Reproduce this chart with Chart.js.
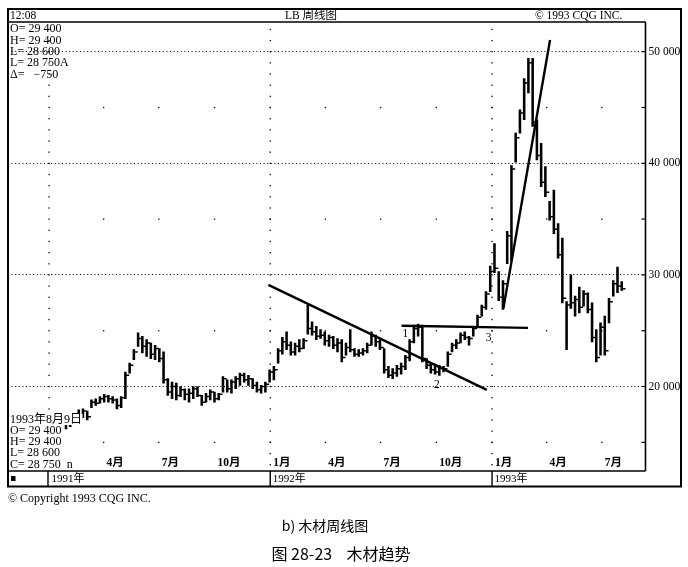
<!DOCTYPE html>
<html>
<head>
<meta charset="utf-8">
<script src="https://cdn.jsdelivr.net/npm/chart.js@4.4.1/dist/chart.umd.min.js"></script>
<style>
html, body { margin: 0; padding: 0; background: #fff; }
canvas { display: block; }
</style>
</head>
<body>
<canvas id="lumber" width="688" height="567"></canvas>
<script>
// weekly lumber bars, x = week number counted from 1 Jan 1991
const firstWeek = 4;
const highs = [
  16900, 17100, 17500, 17900, 18000, 17800, 18800, 18900, 19100, 19300,
  19200, 19100, 18900, 19100, 21300, 22100, 23300, 24800, 24500, 24200,
  23900, 23700, 23400, 23100, 20700, 20400, 20300, 20000, 19800, 19800,
  20000, 20000, 19200, 19400, 19700, 19500, 19400, 20900, 20600, 20600,
  20900, 21200, 21200, 21000, 20700, 20400, 20100, 20400, 21500, 21800,
  23400, 24400, 24900, 24000, 23900, 24200, 24300, 27300, 25800, 25400,
  25100, 24900, 24600, 24500, 24300, 24200, 23900, 25100, 23400, 23300,
  23400, 23900, 24900, 24600, 24200, 23400, 21800, 21600, 21900, 22100,
  22800, 24200, 25500, 25600, 25500, 22500, 22100, 22000, 21900, 21800,
  23100, 23900, 24200, 24800, 24900, 24500, 25400, 26400, 27300, 28500,
  30800, 32800, 30300, 29500, 33900, 39800, 42700, 44800, 47600, 49400,
  49400, 43900, 41800, 39700, 36600, 37600, 34600, 33300, 27600, 30000,
  28100, 28900, 28600, 28400, 27500, 25100, 25700, 26300, 27900, 29500,
  30700, 29400
];
const lows = [
  16200, 16400, 16700, 16900, 17200, 17000, 18100, 18300, 18500, 18600,
  18600, 18500, 18000, 18100, 18900, 21200, 22400, 23600, 23000, 22700,
  22500, 22400, 22200, 20300, 19200, 18900, 18800, 19100, 18800, 18600,
  18900, 19100, 18300, 18600, 18800, 18600, 18800, 19500, 19500, 19400,
  19800, 20100, 20400, 20100, 19800, 19500, 19400, 19500, 20400, 20600,
  22100, 22900, 23300, 22800, 22800, 23100, 23400, 24700, 24600, 24200,
  24300, 23700, 23600, 23400, 23100, 22200, 22800, 23100, 22700, 22700,
  22800, 23000, 23700, 23600, 23300, 21200, 20800, 20700, 20900, 21100,
  21500, 22300, 23900, 24500, 22200, 21600, 21200, 21100, 21000, 21300,
  21800, 23100, 23400, 23900, 24200, 23700, 24500, 25400, 26300, 26900,
  28500, 30200, 27700, 26900, 31000, 31300, 40100, 42700, 43900, 46300,
  43300, 40300, 37900, 37000, 34900, 33700, 31500, 27500, 23300, 27000,
  26300, 26600, 27200, 26600, 24000, 22200, 22800, 22800, 25700, 28100,
  28400, 28600
];
const closes = [
  16700, 16900, 17300, 17100, 17800, 17300, 18600, 18500, 18900, 19100,
  18900, 18800, 18300, 19000, 21000, 21900, 23100, 24300, 23600, 23900,
  22900, 23400, 22500, 20600, 19500, 20000, 19200, 19700, 19300, 19400,
  19800, 19200, 18600, 19100, 19500, 18900, 19300, 20700, 19800, 20400,
  20700, 21000, 20600, 20700, 20100, 19700, 20000, 20200, 21300, 21500,
  23200, 24000, 23700, 23100, 23600, 23400, 24100, 25200, 24900, 24500,
  24600, 24100, 24400, 23700, 23900, 22600, 23500, 23300, 22900, 23000,
  23200, 23700, 24500, 24000, 23500, 21500, 21000, 21200, 21600, 21800,
  22600, 24000, 25200, 25300, 22500, 21900, 21500, 21300, 21700, 21600,
  22900, 23700, 23900, 24600, 24400, 24300, 25200, 26200, 27100, 28300,
  30300, 30600, 28000, 29200, 33500, 39500, 42300, 44500, 47200, 49000,
  43700, 40700, 38300, 37400, 35200, 34100, 31800, 27900, 27300, 27500,
  27800, 27100, 28300, 26900, 24400, 22600, 25300, 23200, 27600, 29200,
  29000, 28750
];

const yTicks = [20000, 30000, 40000, 50000];
const quarterWeeks = [12.86, 25.86, 39, 52.14, 65.14, 78.14, 91.29, 104.43, 117.29, 130.29];
const monthLabels = ['4月', '7月', '10月', '1月', '4月', '7月', '10月', '1月', '4月', '7月'];
const yearWeeks = [0, 52.14, 104.43];
const yearLabels = ['1991年', '1992年', '1993年'];

// hand-drawn lines on the chart
const trendDown = [{x: 51.7, y: 29100}, {x: 103.2, y: 19700}];
const neckline = [{x: 83.1, y: 25450}, {x: 112.9, y: 25250}];
const trendUp = [{x: 107.1, y: 27000}, {x: 118.1, y: 51050}];
const pointLabels = [
  {x: 84.0, y: 24700, text: '1'},
  {x: 91.4, y: 20130, text: '2'},
  {x: 103.6, y: 24350, text: '3'}
];

const serif = '"Liberation Serif", "Noto Sans CJK SC", serif';
const fmt = v => String(v).replace(/\B(?=(\d{3})+(?!\d))/g, ' ');

const decor = {
  id: 'decor',
  beforeDatasetsDraw(chart) {
    const {ctx, chartArea: a, scales: {x, y}} = chart;
    ctx.save();
    ctx.fillStyle = '#000';
    // year columns: dot every 1000
    yearWeeks.forEach(w => {
      const px = x.getPixelForValue(w);
      for (let v = 13000; v <= 52000; v += 1000) {
        ctx.fillRect(px - 0.6, y.getPixelForValue(v) - 0.6, 1.3, 1.3);
      }
    });
    // quarter columns: dots only on the half levels
    quarterWeeks.forEach(w => {
      const px = x.getPixelForValue(w);
      [15000, 25000, 35000, 45000].forEach(v => {
        ctx.fillRect(px - 0.6, y.getPixelForValue(v) - 0.6, 1.3, 1.3);
      });
    });
    // short inner ticks on the price axis
    ctx.strokeStyle = '#000';
    ctx.lineWidth = 1.2;
    for (let v = 15000; v <= 50000; v += 5000) {
      const py = y.getPixelForValue(v);
      ctx.beginPath();
      ctx.moveTo(a.right - 4, py);
      ctx.lineTo(a.right, py);
      ctx.stroke();
    }
    ctx.restore();
  },
  afterDraw(chart) {
    const {ctx, chartArea: a, scales: {x, y}} = chart;
    ctx.save();
    ctx.strokeStyle = '#000';
    ctx.fillStyle = '#000';

    // frame
    ctx.lineWidth = 2;
    ctx.strokeRect(8, 9, 673, 477.5);
    ctx.lineWidth = 1.6;
    ctx.beginPath();
    ctx.moveTo(8, a.top); ctx.lineTo(a.right, a.top);
    ctx.moveTo(a.right, a.top); ctx.lineTo(a.right, a.bottom);
    ctx.moveTo(8, a.bottom); ctx.lineTo(a.right, a.bottom);
    ctx.stroke();

    // header strip
    ctx.font = '11.5px ' + serif;
    ctx.textBaseline = 'middle';
    ctx.textAlign = 'left';
    ctx.fillText('12:08', 10, 15.5);
    ctx.fillText('© 1993 CQG INC.', 535, 16);
    ctx.textAlign = 'center';
    ctx.fillText('LB 周线图', 311, 15.5);

    // quote block top left
    ctx.font = '12px ' + serif;
    ctx.textAlign = 'left';
    ['O= 29 400', 'H= 29 400', 'L= 28 600', 'L= 28 750A', 'Δ=   −750'].forEach((t, i) => {
      ctx.fillText(t, 10, 29 + i * 11.4);
    });

    // last bar block bottom left, over the bars
    ['1993年8月9日', 'O= 29 400', 'H= 29 400', 'L= 28 600', 'C= 28 750  n'].forEach((t, i) => {
      const ty = 419.5 + i * 11.25;
      const w = ctx.measureText(t).width;
      ctx.fillStyle = '#fff';
      ctx.fillRect(9.5, ty - 5.5, w + 1, 11);
      ctx.fillStyle = '#000';
      ctx.fillText(t, 10, ty);
    });

    // month labels
    ctx.font = 'bold 11.5px ' + serif;
    quarterWeeks.forEach((w, i) => {
      ctx.fillText(monthLabels[i], x.getPixelForValue(w) + 3, 463.5);
    });

    // year strip
    ctx.lineWidth = 1.4;
    ctx.beginPath();
    ctx.moveTo(48, a.bottom); ctx.lineTo(48, 486.5);
    yearWeeks.slice(1).forEach(w => {
      const px = x.getPixelForValue(w);
      ctx.moveTo(px, a.bottom); ctx.lineTo(px, 486.5);
    });
    ctx.stroke();
    ctx.fillRect(11, 476, 4.5, 5);
    ctx.font = '11px ' + serif;
    yearWeeks.forEach((w, i) => {
      ctx.fillText(yearLabels[i], Math.max(x.getPixelForValue(w), 48) + 2.5, 479);
    });

    // point labels 1 2 3
    ctx.font = '11.5px ' + serif;
    ctx.textAlign = 'center';
    pointLabels.forEach(p => {
      ctx.fillText(p.text, x.getPixelForValue(p.x), y.getPixelForValue(p.y));
    });

    // captions under the frame
    ctx.textAlign = 'left';
    ctx.font = '12px ' + serif;
    ctx.fillText('© Copyright 1993 CQG INC.', 8, 499);
    ctx.textAlign = 'center';
    ctx.font = '14px "Noto Sans CJK SC", sans-serif';
    ctx.fillText('b) 木材周线图', 325, 526);
    ctx.font = '16px "Noto Sans CJK SC", sans-serif';
    ctx.fillText('图 28-23    木材趋势', 341, 554);
    ctx.restore();
  }
};

new Chart(document.getElementById('lumber'), {
  type: 'bar',
  data: {
    datasets: [{
      type: 'bar',
      data: highs.map((h, i) => ({x: firstWeek + i, y: [lows[i], h]})),
      backgroundColor: '#000',
      barThickness: 1.9,
      grouped: false,
    }, {
      type: 'line',
      data: closes.map((c, i) => ({x: firstWeek + i + 0.45, y: c})),
      showLine: false,
      pointStyle: 'line',
      pointRadius: 1.9,
      pointBorderWidth: 1.5,
      borderColor: '#000',
    }, {
      type: 'line',
      data: trendDown,
      borderColor: '#000',
      borderWidth: 2.4,
      pointRadius: 0,
    }, {
      type: 'line',
      data: neckline,
      borderColor: '#000',
      borderWidth: 2.4,
      pointRadius: 0,
    }, {
      type: 'line',
      data: trendUp,
      borderColor: '#000',
      borderWidth: 2.4,
      pointRadius: 0,
    }]
  },
  options: {
    responsive: false,
    animation: false,
    events: [],
    layout: {
      padding: {left: 8, top: 22, right: 0, bottom: 96}
    },
    plugins: {
      legend: {display: false},
      tooltip: {enabled: false},
    },
    scales: {
      x: {
        type: 'linear',
        display: false,
        offset: false,
        min: -9.67,
        max: 140.6,
      },
      y: {
        type: 'linear',
        position: 'right',
        min: 12430,
        max: 52660,
        afterBuildTicks: s => { s.ticks = yTicks.map(v => ({value: v})); },
        afterFit: s => { s.width = 42.5; },
        grid: {color: '#000', lineWidth: 1, drawTicks: false},
        border: {display: false, dash: [1, 2.6]},
        ticks: {
          padding: 3,
          color: '#000',
          font: {family: serif, size: 11.5},
          callback: v => fmt(v),
        }
      }
    }
  },
  plugins: [decor]
});
</script>
</body>
</html>
